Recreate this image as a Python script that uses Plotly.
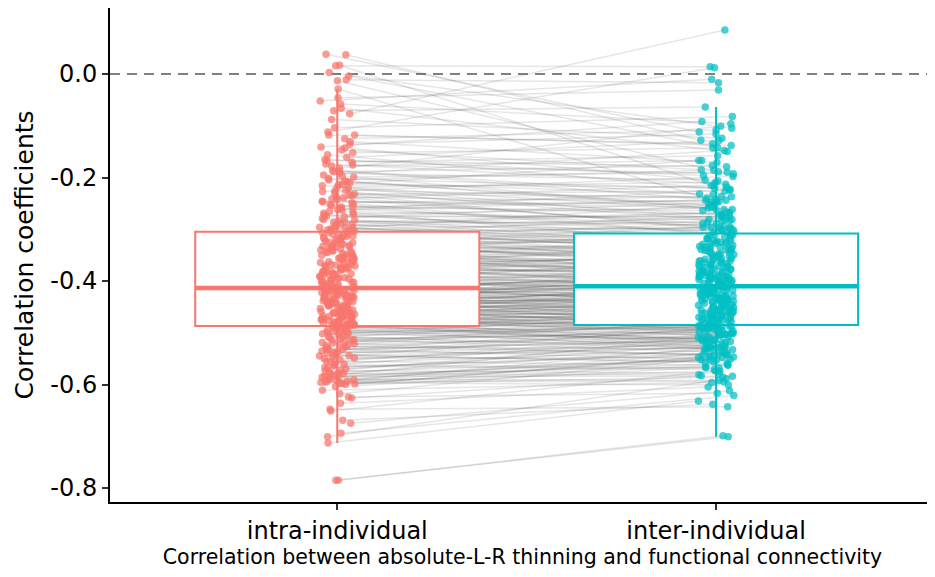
import math
import plotly.graph_objects as go

categories = ["intra-individual", "inter-individual"]
x_title = "Correlation between absolute-L-R thinning and functional connectivity"
y_title = "Correlation coefficients"

intra = [
    0.038, 0.037, 0.017, 0.016, 0.003, -0.004, -0.011, -0.013, -0.029,
    -0.046, -0.052, -0.058, -0.066, -0.071, -0.077, -0.088,
    -0.104, -0.112, -0.118, -0.125, -0.131, -0.136, -0.141, -0.147, -0.152, -0.156,
    -0.161, -0.165, -0.170, -0.174, -0.178, -0.182, -0.186, -0.189, -0.192, -0.195,
    -0.197, -0.199,
    -0.202, -0.205, -0.208, -0.210, -0.213, -0.216, -0.219, -0.221, -0.224, -0.227,
    -0.230, -0.232, -0.235, -0.238, -0.241, -0.243, -0.246, -0.249, -0.252, -0.254,
    -0.257, -0.260, -0.262, -0.265, -0.268, -0.271, -0.273, -0.276, -0.279, -0.282,
    -0.284, -0.287, -0.290, -0.292, -0.294, -0.296, -0.298, -0.299,
    -0.301, -0.303, -0.304, -0.306, -0.307, -0.309, -0.310, -0.312, -0.314, -0.315,
    -0.317, -0.318, -0.320, -0.321, -0.323, -0.325, -0.326, -0.328, -0.329, -0.331,
    -0.332, -0.334, -0.335, -0.337, -0.338, -0.340, -0.341, -0.343, -0.344, -0.346,
    -0.347, -0.349, -0.350, -0.352, -0.353, -0.355, -0.356, -0.358, -0.359, -0.361,
    -0.362, -0.364, -0.365, -0.367, -0.368, -0.370, -0.371, -0.373, -0.374, -0.376,
    -0.377, -0.379, -0.380, -0.382, -0.383, -0.385, -0.386, -0.388, -0.389, -0.391,
    -0.392, -0.394, -0.395, -0.397, -0.398, -0.400, -0.401, -0.403, -0.404, -0.406,
    -0.407, -0.409, -0.410, -0.412,
    -0.413, -0.414, -0.415, -0.416, -0.417, -0.418, -0.419, -0.420, -0.421, -0.422,
    -0.423, -0.424, -0.425, -0.426, -0.427, -0.428, -0.429, -0.430, -0.431, -0.432,
    -0.433, -0.434, -0.435, -0.436, -0.437, -0.438, -0.439, -0.440, -0.441, -0.442,
    -0.443, -0.444, -0.445, -0.446, -0.447, -0.448, -0.449, -0.450, -0.451, -0.452,
    -0.453, -0.454, -0.455, -0.456, -0.457, -0.458, -0.459, -0.460, -0.461, -0.462,
    -0.463, -0.464, -0.465, -0.466, -0.467, -0.468, -0.469, -0.470, -0.471, -0.472,
    -0.473, -0.474, -0.475, -0.476, -0.477, -0.478, -0.479, -0.480, -0.481, -0.482,
    -0.483, -0.484, -0.485, -0.486, -0.487,
    -0.488, -0.489, -0.490, -0.492, -0.493, -0.495, -0.496, -0.498, -0.499,
    -0.501, -0.503, -0.505, -0.507, -0.509, -0.511, -0.513, -0.515, -0.517, -0.519,
    -0.521, -0.523, -0.525, -0.527, -0.529, -0.531, -0.533, -0.535, -0.537, -0.539,
    -0.541, -0.543, -0.545, -0.547, -0.549, -0.552, -0.555, -0.558, -0.561, -0.564,
    -0.567, -0.570, -0.573, -0.576, -0.578, -0.580, -0.582, -0.584, -0.586, -0.588,
    -0.590, -0.592, -0.593, -0.595, -0.596, -0.597, -0.598, -0.599,
    -0.604, -0.611, -0.618, -0.624, -0.626, -0.636, -0.648, -0.651, -0.669, -0.675,
    -0.694, -0.701, -0.713,
    -0.785, -0.785,
    -0.118, -0.143, -0.167, -0.188, -0.176,
    -0.207, -0.214, -0.226, -0.233, -0.239, -0.247, -0.251, -0.258, -0.263, -0.269,
    -0.274, -0.281, -0.286, -0.291, -0.297,
    -0.302, -0.308, -0.313, -0.316, -0.322, -0.327, -0.333, -0.336, -0.342, -0.345,
    -0.351, -0.354, -0.357, -0.363, -0.366, -0.369, -0.372, -0.375, -0.378, -0.381,
    -0.384, -0.387, -0.390, -0.393, -0.396, -0.399, -0.402, -0.405, -0.408, -0.411,
    -0.414, -0.416, -0.419, -0.421, -0.424, -0.427, -0.429, -0.432, -0.435, -0.437,
    -0.440, -0.443, -0.445, -0.448, -0.451, -0.453, -0.456, -0.459, -0.461, -0.464,
    -0.467, -0.469, -0.472, -0.475, -0.477, -0.480, -0.482, -0.484, -0.486, -0.487,
    -0.491, -0.497, -0.502, -0.508, -0.514, -0.520, -0.526, -0.532, -0.538, -0.544,
    -0.550, -0.556, -0.562, -0.568, -0.574, -0.579, -0.585, -0.591, -0.594, -0.600,
]

inter = [
    -0.112, -0.128, -0.215, 0.014, -0.105, -0.142, -0.017, -0.189, -0.247,
    -0.031, -0.010, -0.096, -0.150, -0.064, 0.085, -0.124,
    -0.082, 0.012, -0.138, -0.108, -0.171, -0.116, -0.092, -0.185, -0.143, -0.224,
    -0.129, -0.196, -0.158, -0.213, -0.167, -0.101, -0.232, -0.177, -0.205, -0.148,
    -0.262, -0.190,
    -0.221, -0.186, -0.254, -0.233, -0.167, -0.262, -0.209, -0.281, -0.240, -0.198,
    -0.272, -0.226, -0.301, -0.247, -0.215, -0.289, -0.258, -0.236, -0.312, -0.271,
    -0.244, -0.296, -0.223, -0.283, -0.327, -0.259, -0.305, -0.276, -0.248, -0.318,
    -0.292, -0.267, -0.335, -0.301, -0.279, -0.322, -0.253, -0.309,
    -0.284, -0.341, -0.297, -0.352, -0.318, -0.273, -0.335, -0.362, -0.301, -0.326,
    -0.289, -0.357, -0.331, -0.312, -0.374, -0.340, -0.296, -0.365, -0.322, -0.348,
    -0.381, -0.310, -0.356, -0.337, -0.392, -0.328, -0.369, -0.345, -0.305, -0.377,
    -0.351, -0.399, -0.334, -0.362, -0.387, -0.318, -0.373, -0.346, -0.405, -0.359,
    -0.382, -0.339, -0.394, -0.366, -0.411, -0.353, -0.327, -0.388, -0.371, -0.402,
    -0.348, -0.415, -0.379, -0.396, -0.361, -0.423, -0.386, -0.342, -0.408, -0.374,
    -0.431, -0.393, -0.364, -0.419, -0.401, -0.437, -0.378, -0.412, -0.446, -0.389,
    -0.425, -0.397, -0.442, -0.416,
    -0.392, -0.437, -0.418, -0.371, -0.446, -0.403, -0.425, -0.384, -0.452, -0.409,
    -0.431, -0.378, -0.459, -0.414, -0.440, -0.396, -0.467, -0.422, -0.389, -0.448,
    -0.405, -0.473, -0.428, -0.451, -0.399, -0.436, -0.481, -0.417, -0.457, -0.443,
    -0.386, -0.462, -0.429, -0.478, -0.411, -0.454, -0.434, -0.489, -0.420, -0.465,
    -0.447, -0.401, -0.485, -0.438, -0.470, -0.423, -0.494, -0.458, -0.413, -0.476,
    -0.441, -0.501, -0.462, -0.427, -0.483, -0.449, -0.508, -0.469, -0.432, -0.491,
    -0.456, -0.515, -0.474, -0.439, -0.497, -0.463, -0.522, -0.484, -0.451, -0.505,
    -0.470, -0.528, -0.487, -0.459, -0.512,
    -0.476, -0.519, -0.495, -0.462, -0.533, -0.501, -0.471, -0.526, -0.488,
    -0.463, -0.512, -0.489, -0.528, -0.471, -0.503, -0.538, -0.481, -0.519, -0.495,
    -0.544, -0.507, -0.476, -0.531, -0.499, -0.552, -0.514, -0.486, -0.541, -0.523,
    -0.502, -0.557, -0.529, -0.491, -0.548, -0.517, -0.563, -0.535, -0.509, -0.571,
    -0.543, -0.524, -0.578, -0.551, -0.532, -0.566, -0.505, -0.584, -0.547, -0.559,
    -0.592, -0.538, -0.574, -0.553, -0.601, -0.562, -0.586, -0.545,
    -0.567, -0.596, -0.548, -0.617, -0.583, -0.605, -0.643, -0.574, -0.638, -0.612,
    -0.621, -0.589, -0.632,
    -0.701, -0.699,
    -0.135, -0.207, -0.179, -0.244, -0.193,
    -0.262, -0.219, -0.281, -0.237, -0.298, -0.252, -0.311, -0.264, -0.243, -0.317,
    -0.276, -0.329, -0.287, -0.268, -0.338,
    -0.341, -0.296, -0.352, -0.323, -0.306, -0.367, -0.338, -0.315, -0.379, -0.347,
    -0.325, -0.384, -0.361, -0.333, -0.392, -0.372, -0.349, -0.401, -0.381, -0.358,
    -0.414, -0.369, -0.395, -0.426, -0.387, -0.362, -0.418, -0.403, -0.434, -0.391,
    -0.438, -0.397, -0.452, -0.421, -0.407, -0.463, -0.429, -0.446, -0.392, -0.471,
    -0.436, -0.415, -0.479, -0.448, -0.426, -0.487, -0.455, -0.433, -0.496, -0.462,
    -0.441, -0.503, -0.468, -0.449, -0.485, -0.511, -0.457, -0.493, -0.474, -0.518,
    -0.459, -0.512, -0.487, -0.531, -0.498, -0.474, -0.543, -0.516, -0.492, -0.556,
    -0.527, -0.503, -0.568, -0.539, -0.514, -0.581, -0.552, -0.529, -0.594, -0.547,
]

# Box statistics (intra, inter)
box_q1 = [-0.487, -0.485]
box_median = [-0.4135, -0.410]
box_q3 = [-0.305, -0.308]
box_lower = [-0.713, -0.701]
box_upper = [-0.029, -0.064]

y_tickvals = [0.0, -0.2, -0.4, -0.6, -0.8]
y_ticktext = ["0.0", "-0.2", "-0.4", "-0.6", "-0.8"]

assert len(intra) == len(inter), (len(intra), len(inter))

colors = ["#F8766D", "#00BFC4"]
cat_pos = [1, 2]
box_width = 0.75
jitter_half = 0.047


def jitter(i, seed):
    # deterministic scatter of the points around the category centre
    v = math.sin(i * 12.9898 + seed * 78.233) * 43758.5453
    return ((v - math.floor(v)) - 0.5) * 2 * jitter_half


jx_intra = [cat_pos[0] + jitter(i, 1) for i in range(len(intra))]
jx_inter = [cat_pos[1] + jitter(i, 2) for i in range(len(inter))]

fig = go.Figure()

shapes = []
for xa, ya, xb, yb in zip(jx_intra, intra, jx_inter, inter):
    shapes.append(dict(type="line", xref="x", yref="y", x0=xa, y0=ya, x1=xb, y1=yb,
                       layer="below", line=dict(color="rgba(80,80,80,0.14)", width=1.5)))
shapes.append(dict(type="line", xref="paper", yref="y", x0=0, x1=1, y0=0, y1=0,
                   layer="below", line=dict(color="#808080", width=2, dash="10px,7px")))

for k in range(2):
    fig.add_trace(go.Box(
        x=[cat_pos[k]], q1=[box_q1[k]], median=[box_median[k]], q3=[box_q3[k]],
        lowerfence=[box_lower[k]], upperfence=[box_upper[k]],
        width=box_width, fillcolor="white", line=dict(color=colors[k], width=2),
        whiskerwidth=0, boxpoints=False, showlegend=False, hoverinfo="skip",
    ))

for k in range(2):
    fig.add_trace(go.Scatter(
        x=[cat_pos[k] - box_width / 2, cat_pos[k] + box_width / 2],
        y=[box_median[k], box_median[k]], mode="lines",
        line=dict(color=colors[k], width=4.5), showlegend=False, hoverinfo="skip",
    ))

for k, (xs, ys) in enumerate([(jx_intra, intra), (jx_inter, inter)]):
    fig.add_trace(go.Scatter(
        x=xs, y=ys, mode="markers",
        marker=dict(color=colors[k], size=7.5, opacity=0.72, line=dict(width=0)),
        showlegend=False, hoverinfo="skip",
    ))

font_family = "DejaVu Sans, Liberation Sans, Arial, sans-serif"
fig.update_layout(
    width=935, height=577,
    margin=dict(l=102, r=8, t=0, b=83),
    plot_bgcolor="white", paper_bgcolor="white",
    shapes=shapes,
    font=dict(family=font_family, color="black"),
    xaxis=dict(
        range=[0.4, 2.578], tickvals=cat_pos, ticktext=categories,
        showline=True, linecolor="black", linewidth=2, mirror=False,
        ticks="outside", ticklen=6, tickwidth=2, tickcolor="#333333",
        tickfont=dict(size=24, color="black"), showgrid=False, zeroline=False,
        title=dict(text=x_title, font=dict(size=20.5, color="black"), standoff=4),
        automargin=False,
    ),
    yaxis=dict(
        range=[-0.827, 0.1275], tickvals=y_tickvals, ticktext=y_ticktext,
        showline=True, linecolor="black", linewidth=2, mirror=False,
        ticks="outside", ticklen=6, tickwidth=2, tickcolor="#333333",
        tickfont=dict(size=24, color="black"), showgrid=False, zeroline=False,
        title=dict(text=y_title, font=dict(size=25, color="black"), standoff=10),
        automargin=False,
    ),
)

fig.write_html("out.html")
